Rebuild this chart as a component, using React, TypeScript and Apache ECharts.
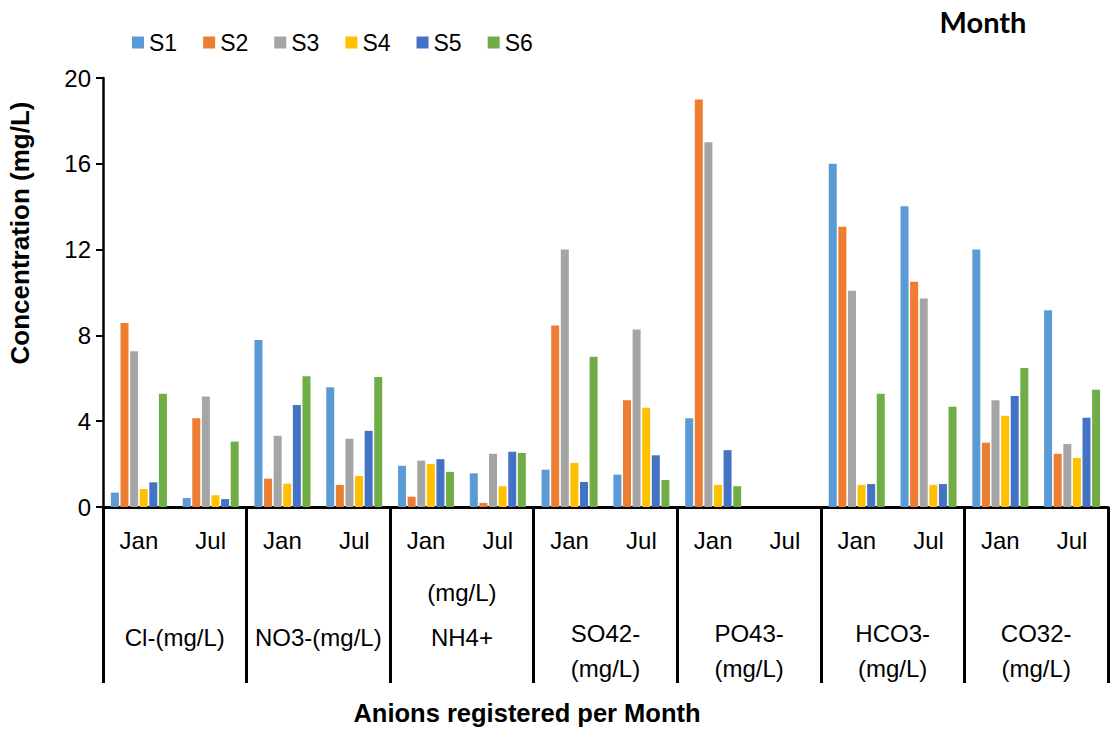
import React, { useEffect, useRef } from "react";
import * as echarts from "echarts";

const months = ["Jan", "Jul"];
const groupLines: string[][] = [
  ["Cl-(mg/L)"],
  ["NO3-(mg/L)"],
  ["(mg/L)", "NH4+"],
  ["SO42-", "(mg/L)"],
  ["PO43-", "(mg/L)"],
  ["HCO3-", "(mg/L)"],
  ["CO32-", "(mg/L)"],
];
const categories = groupLines.flatMap(() => months);
const seriesNames = ["S1", "S2", "S3", "S4", "S5", "S6"];
const colors = ["#5B9BD5", "#ED7D31", "#A5A5A5", "#FFC000", "#4472C4", "#70AD47"];

const s1 = [0.67, 0.42, 7.79, 5.58, 1.92, 1.57, 1.74, 1.51, 4.14, 0, 16.0, 14.02, 12.0, 9.17];
const s2 = [8.58, 4.14, 1.32, 1.03, 0.48, 0.19, 8.46, 4.98, 19.0, 0, 13.07, 10.5, 3.0, 2.48];
const s3 = [7.26, 5.15, 3.32, 3.18, 2.16, 2.48, 12.0, 8.27, 17.0, 0, 10.08, 9.72, 4.98, 2.94];
const s4 = [0.84, 0.55, 1.09, 1.45, 2.0, 0.97, 2.06, 4.63, 1.03, 0, 1.03, 1.03, 4.25, 2.29];
const s5 = [1.15, 0.37, 4.75, 3.55, 2.23, 2.58, 1.17, 2.41, 2.65, 0, 1.07, 1.07, 5.17, 4.16];
const s6 = [5.28, 3.05, 6.1, 6.06, 1.64, 2.52, 7.01, 1.26, 0.97, 0, 5.28, 4.67, 6.48, 5.47];
const seriesData = [s1, s2, s3, s4, s5, s6];

const yMin = 0;
const yMax = 20;
const yInterval = 4;

const FONT = "'Liberation Sans', Arial, sans-serif";

export default function App() {
  const ref = useRef<HTMLDivElement>(null);
  useEffect(() => {
    if (!ref.current) return;
    const chart = echarts.init(ref.current, undefined, { renderer: "svg" });
    const base = { fontSize: 24, fontFamily: FONT, color: "#000" };
    const option: any = {
      animation: false,
      backgroundColor: "#fff",
      color: colors,
      grid: { left: 103, right: 10, top: 78, bottom: 224, containLabel: false },
      legend: {
        data: seriesNames,
        icon: "rect",
        itemWidth: 12,
        itemHeight: 12,
        itemGap: 26,
        left: 132,
        top: 31,
        padding: 0,
        textStyle: { fontSize: 23, fontFamily: FONT, color: "#000" },
      },
      xAxis: [
        {
          type: "category",
          data: categories,
          position: "bottom",
          axisLine: { show: true, lineStyle: { color: "#000", width: 3 } },
          axisTick: { show: false },
          axisLabel: { ...base, interval: 0, margin: 33, verticalAlign: "middle" },
          splitLine: { show: false },
        },
        {
          type: "category",
          data: groupLines.map((g) => g.join(" ")),
          position: "bottom",
          axisLine: { show: false },
          axisTick: {
            show: true,
            interval: 0,
            length: 176,
            lineStyle: { color: "#000", width: 3 },
          },
          axisLabel: {
            interval: 0,
            margin: 130,
            verticalAlign: "middle",
            formatter: (_v: string, i: number) => {
              const lines = groupLines[i];
              if (lines.length === 1) return `{n|${lines[0]}}`;
              if (lines[0].startsWith("(")) return lines.map((l) => `{w|${l}}`).join("\n") + "\n{w| }";
              return "{sp| }\n" + lines.map((l) => `{n|${l}}`).join("\n");
            },
            rich: {
              n: { ...base, lineHeight: 35 },
              w: { ...base, lineHeight: 45 },
              sp: { ...base, fontSize: 10, lineHeight: 27 },
            },
          },
          splitLine: { show: false },
        },
      ],
      yAxis: {
        type: "value",
        min: yMin,
        max: yMax,
        interval: yInterval,
        axisLine: { show: true, lineStyle: { color: "#000", width: 2.5 } },
        axisTick: { show: true, length: 7, lineStyle: { color: "#000", width: 2 } },
        axisLabel: { ...base, margin: 12 },
        splitLine: { show: false },
      },
      graphic: [
        {
          type: "text",
          x: 20,
          y: 233,
          rotation: Math.PI / 2,
          style: {
            text: "Concentration (mg/L)",
            font: `bold 26px ${FONT}`,
            fill: "#000",
            textAlign: "center",
            textVerticalAlign: "middle",
          },
        },
        {
          type: "text",
          x: 527,
          y: 713,
          style: {
            text: "Anions registered per Month",
            font: `bold 25.5px ${FONT}`,
            fill: "#000",
            textAlign: "center",
            textVerticalAlign: "middle",
          },
        },
        {
          type: "text",
          x: 983,
          y: 21,
          style: {
            text: "Month",
            font: `bold 29px Lato, 'Open Sans', sans-serif`,
            fill: "#000",
            textAlign: "center",
            textVerticalAlign: "middle",
          },
        },
      ],
      series: seriesNames.map((name, k) => ({
        name,
        type: "bar",
        xAxisIndex: 0,
        data: seriesData[k],
        barWidth: 8,
        barGap: "20%",
        itemStyle: { color: colors[k], borderWidth: 0 },
      })),
    };
    chart.setOption(option);
    return () => chart.dispose();
  }, []);
  return (
    <div
      ref={ref}
      style={{ position: "fixed", left: 0, top: 0, width: 1118, height: 731, background: "#fff" }}
    />
  );
}
